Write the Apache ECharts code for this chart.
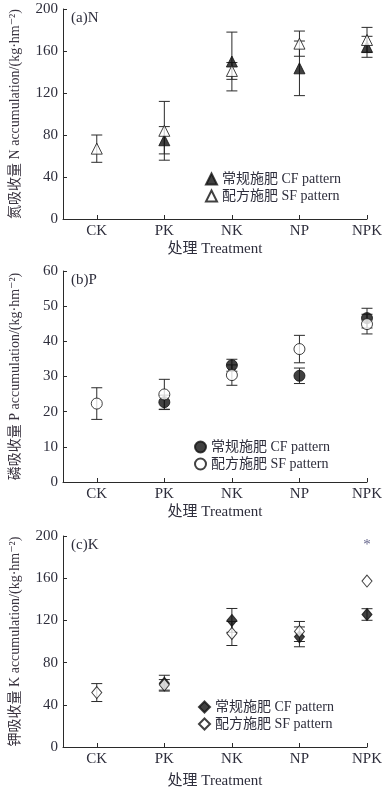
<!DOCTYPE html>
<html>
<head>
<meta charset="utf-8">
<script src="https://cdn.jsdelivr.net/npm/echarts@6/dist/echarts.min.js"></script>
<style>
html,body{margin:0;padding:0;background:#fff;}
#chart{width:387px;height:791px;}
</style>
</head>
<body>
<div id="chart"></div>
<script>
// ---------- data ----------
const categories = ['CK', 'PK', 'NK', 'NP', 'NPK'];
const xPositions = [1, 2, 3, 4, 5];
const legendCF = '常规施肥 CF pattern';
const legendSF = '配方施肥 SF pattern';

const nCF = [null, 75, 150, 143.5, 164];
const nCFerr = [null, 13, 28, 26, 10];
const nSF = [67, 84, 141, 167, 170.5];
const nSFerr = [13, 28, 8, 12, 12];

const pCF = [null, 22.7, 33.2, 30.2, 46.6];
const pCFerr = [null, 2, 1.7, 2.2, 2.8];
const pSF = [22.3, 24.9, 30.4, 37.8, 44.9];
const pSFerr = [4.5, 4.3, 2.9, 3.9, 2.8];

const kCF = [null, 60.5, 120, 104.4, 125.6];
const kCFerr = [null, 7.5, 11.3, 9.4, 5.5];
const kSF = [51.6, 58.9, 107.6, 109.5, 157.3];
const kSFerr = [8.5, 5, 11.4, 9.5, 0];
const kSignif = ['', '', '', '', '*'];
const kSignifY = 191;

const yTicksN = {min: 0, max: 200, interval: 40};
const yTicksP = {min: 0, max: 60, interval: 10};
const yTicksK = {min: 0, max: 200, interval: 40};

// ---------- styles ----------
const FONT = '"Liberation Serif","DejaVu Serif","Noto Sans CJK SC",serif';
const TXT = '#2e2e3c';
const AX = '#2a2a2a';

const panels = [
  {top: 9, height: 210, title: '(a)N', yname: '氮吸收量 N accumulation/(kg·hm⁻²)', y: yTicksN,
   cf: nCF, cfe: nCFerr, sf: nSF, sfe: nSFerr, sym: 'triangle', size: [11, 11], legend: {left: 200, top: 167}},
  {top: 271, height: 211, title: '(b)P', yname: '磷吸收量 P accumulation/(kg·hm⁻²)', y: yTicksP,
   cf: pCF, cfe: pCFerr, sf: pSF, sfe: pSFerr, sym: 'circle', size: [11, 11], legend: {left: 189, top: 435}},
  {top: 536, height: 211, title: '(c)K', yname: '钾吸收量 K accumulation/(kg·hm⁻²)', y: yTicksK,
   cf: kCF, cfe: kCFerr, sf: kSF, sfe: kSFerr, sym: 'diamond', size: [10, 12], legend: {left: 193, top: 695}}
];

function pts(vals) {
  const out = [];
  vals.forEach((v, i) => { if (v !== null) out.push([xPositions[i], v]); });
  return out;
}
function errPts(vals, errs) {
  const out = [];
  vals.forEach((v, i) => { if (v !== null) out.push([xPositions[i], v, errs[i]]); });
  return out;
}
function errRender(params, api) {
  const x = api.value(0), y = api.value(1), e = api.value(2);
  if (!e) return null;
  const t = api.coord([x, y + e]);
  const b = api.coord([x, y - e]);
  const hw = 5.5;
  const st = {stroke: AX, lineWidth: 1};
  return {
    type: 'group',
    children: [
      {type: 'line', shape: {x1: t[0], y1: t[1], x2: b[0], y2: b[1]}, style: st},
      {type: 'line', shape: {x1: t[0] - hw, y1: t[1], x2: t[0] + hw, y2: t[1]}, style: st},
      {type: 'line', shape: {x1: b[0] - hw, y1: b[1], x2: b[0] + hw, y2: b[1]}, style: st}
    ]
  };
}

const grid = [], xAxis = [], yAxis = [], series = [], legend = [], title = [];
const nameMap = {};
panels.forEach((p, i) => {
  grid.push({left: 58, width: 309, top: p.top, height: p.height});
  xAxis.push({
    type: 'value', gridIndex: i, min: 0.5, max: 5,
    name: '处理 Treatment', nameLocation: 'middle', nameGap: i === 2 ? 27 : 23,
    nameTextStyle: {fontFamily: FONT, fontSize: 15, color: TXT},
    axisLine: {lineStyle: {color: AX, width: 1}},
    axisTick: {inside: true, length: 4, customValues: xPositions, lineStyle: {color: AX}},
    axisLabel: {customValues: xPositions, formatter: v => categories[Math.round(v) - 1] || '',
      fontFamily: FONT, fontSize: 15, color: TXT, margin: 5},
    splitLine: {show: false}
  });
  yAxis.push({
    type: 'value', gridIndex: i, min: p.y.min, max: p.y.max, interval: p.y.interval,
    name: p.yname, nameLocation: 'middle', nameRotate: 90, nameGap: 41,
    nameTextStyle: {fontFamily: FONT, fontSize: 14, color: '#3a3440'},
    axisLine: {show: true, lineStyle: {color: AX, width: 1}},
    axisTick: {show: true, inside: true, length: 4, lineStyle: {color: AX}},
    axisLabel: {fontFamily: FONT, fontSize: 15, color: TXT, margin: 5},
    splitLine: {show: false}
  });
  title.push({text: p.title, left: 66, top: p.top - 3,
    textStyle: {fontFamily: FONT, fontSize: 15, fontWeight: 'normal', color: TXT}});
  const cfName = 'CF' + i, sfName = 'SF' + i;
  nameMap[cfName] = legendCF; nameMap[sfName] = legendSF;
  series.push({type: 'custom', xAxisIndex: i, yAxisIndex: i, renderItem: errRender,
    data: errPts(p.cf, p.cfe), z: 1, silent: true});
  series.push({type: 'custom', xAxisIndex: i, yAxisIndex: i, renderItem: errRender,
    data: errPts(p.sf, p.sfe), z: 1, silent: true});
  series.push({name: cfName, type: 'scatter', xAxisIndex: i, yAxisIndex: i,
    symbol: p.sym, symbolSize: p.size, data: pts(p.cf), z: 3,
    itemStyle: {color: '#111', borderColor: '#111', borderWidth: 1}});
  series.push({name: sfName, type: 'scatter', xAxisIndex: i, yAxisIndex: i,
    symbol: p.sym, symbolSize: p.size, data: pts(p.sf), z: 4,
    itemStyle: {color: '#fff', borderColor: '#111', borderWidth: 1}});
  legend.push({
    data: [cfName, sfName], orient: 'vertical', left: p.legend.left, top: p.legend.top,
    itemWidth: 11, itemHeight: 11, itemGap: 3, selectedMode: false,
    formatter: n => nameMap[n],
    textStyle: {fontFamily: FONT, fontSize: 14, color: TXT}
  });
});
// significance marker (panel c)
series.push({type: 'scatter', xAxisIndex: 2, yAxisIndex: 2, symbol: 'circle', symbolSize: 1, silent: true, z: 5,
  itemStyle: {color: 'rgba(0,0,0,0)'},
  data: kSignif.map((s, i) => s ? {value: [xPositions[i], kSignifY], sig: s} : null).filter(Boolean),
  label: {show: true, position: 'inside', formatter: () => kSignif[4], fontFamily: FONT, fontSize: 15, color: '#3a3a6a'}});

const chart = echarts.init(document.getElementById('chart'), null, {renderer: 'canvas'});
chart.setOption({animation: false, backgroundColor: '#fff', title, grid, xAxis, yAxis, series, legend});
</script>
</body>
</html>
